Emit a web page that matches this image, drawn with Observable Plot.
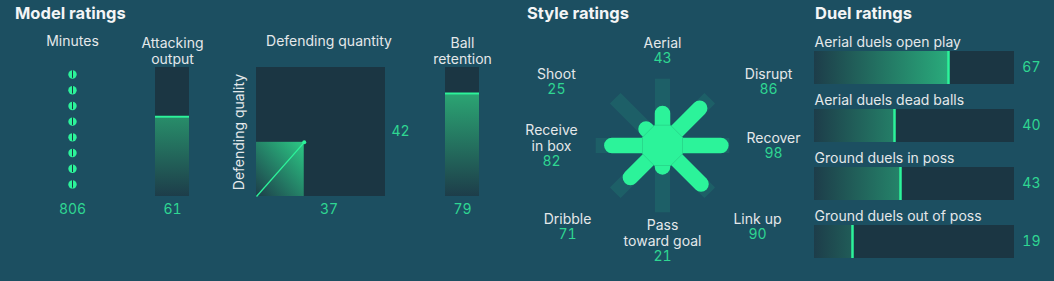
<!DOCTYPE html>
<html><head><meta charset="utf-8">
<script src="https://cdn.jsdelivr.net/npm/d3@7"></script>
<script src="https://cdn.jsdelivr.net/npm/@observablehq/plot@0.6"></script>
<style>
html,body{margin:0;padding:0;background:#1c4f61;}
#root{position:relative;width:1054px;height:281px;background:#1c4f61;overflow:hidden;font-family:Inter,"Open Sans",sans-serif;color:#e4e8ea;}
.title{position:absolute;font-weight:700;font-size:16.5px;line-height:17px;color:#f3f5f6;white-space:nowrap;}
</style></head><body><div id="root"></div>
<script>
// ---- data ----
const titles = ["Model ratings", "Style ratings", "Duel ratings"];
const minutesPlayed = 806;
const modelNames = ["Attacking\noutput", "Defending quantity", "Defending quality", "Ball\nretention"];
const modelValues = [61, 37, 42, 79];
const styleNames = ["Aerial", "Disrupt", "Recover", "Link up", "Pass\ntoward goal", "Dribble", "Receive\nin box", "Shoot"];
const styleValues = [43, 86, 98, 90, 21, 71, 82, 25];
const duelNames = ["Aerial duels open play", "Aerial duels dead balls", "Ground duels in poss", "Ground duels out of poss"];
const duelValues = [67, 40, 43, 19];

// ---- style ----
const DARK = "#1b3643", BRIGHT = "#2cf39a", NUM = "#2fd692", TXT = "#e4e8ea";
const FONT = "Inter, 'Open Sans', sans-serif";
const baseStyle = {background: "transparent", fontFamily: FONT, fontSize: "14px", overflow: "visible", color: TXT};
const root = document.getElementById("root");
function place(el, left, top) { el.style.position = "absolute"; el.style.left = left + "px"; el.style.top = top + "px"; root.appendChild(el); }
function addDefs(svg, html) { d3.select(svg).insert("defs", ":first-child").html(html); }

// titles
[15, 527, 815].forEach((x, i) => {
  const d = document.createElement("div");
  d.className = "title"; d.textContent = titles[i];
  place(d, x, 5);
});

// ---- Model ratings: minutes ----
const dots = d3.range(Math.floor(minutesPlayed / 100));
const pMin = Plot.plot({
  width: 80, height: 195, marginTop: 39, marginBottom: 27, marginLeft: 0, marginRight: 0,
  x: {domain: [0, 1], axis: null}, y: {domain: [-0.45, 7.77], reverse: true, axis: null},
  style: baseStyle,
  marks: [
    Plot.dot(dots, {x: 0.5, y: d => d, r: 4.2, fill: BRIGHT}),
    Plot.ruleX(dots, {x: 0.5, y1: d => d - 0.24, y2: d => d + 0.24, stroke: DARK, strokeWidth: 1}),
    Plot.text(["Minutes"], {x: 0.5, frameAnchor: "top", lineAnchor: "top", dy: -31, text: d => d, fill: TXT}),
    Plot.text([minutesPlayed], {x: 0.5, frameAnchor: "bottom", lineAnchor: "middle", dy: 13, text: d => d, fill: NUM})
  ]
});
place(pMin, 32, 28);

// ---- vertical bars ----
function vbar(label, value, cx, id) {
  const W = 34, mx = 40;
  const p = Plot.plot({
    width: W + 2 * mx, height: 195, marginTop: 39, marginBottom: 27, marginLeft: mx, marginRight: mx,
    x: {domain: [0, 1], axis: null}, y: {domain: [0, 100], axis: null}, style: baseStyle,
    marks: [
      Plot.rect([value], {x1: 0, x2: 1, y1: 0, y2: 100, fill: DARK}),
      Plot.rect([value], {x1: 0, x2: 1, y1: 0, y2: d => d, fill: `url(#${id})`}),
      Plot.ruleY([value], {y: d => d, stroke: BRIGHT, strokeWidth: 2, dy: -1}),
      Plot.text([label], {x: 0.5, frameAnchor: "top", lineAnchor: "top", lineHeight: 1.15, dy: -31, text: d => d, fill: TXT}),
      Plot.text([value], {x: 0.5, frameAnchor: "bottom", lineAnchor: "middle", dy: 13, text: d => d, fill: NUM})
    ]
  });
  const y = p.scale("y");
  addDefs(p, `<linearGradient id="${id}" gradientUnits="userSpaceOnUse" x1="0" x2="0" y1="${y.apply(0)}" y2="${y.apply(100)}"><stop offset="0" stop-color="#1d3d4a"/><stop offset="1" stop-color="#2fc07e"/></linearGradient>`);
  place(p, cx - W / 2 - mx, 28);
}
vbar(modelNames[0], modelValues[0], 172, "gAtt");
vbar(modelNames[3], modelValues[3], 461.5, "gRet");

// ---- defending square ----
const def = [{x: modelValues[1], y: modelValues[2]}];
const pDef = Plot.plot({
  width: 230, height: 195, marginTop: 39, marginBottom: 27, marginLeft: 56, marginRight: 45,
  x: {domain: [0, 100], axis: null}, y: {domain: [0, 100], axis: null}, style: baseStyle,
  marks: [
    Plot.rect([0], {x1: 0, x2: 100, y1: 0, y2: 100, fill: DARK}),
    Plot.rect(def, {x1: 0, x2: "x", y1: 0, y2: "y", fill: "url(#gDef)"}),
    Plot.link(def, {x1: 0, y1: 0, x2: "x", y2: "y", stroke: BRIGHT, strokeWidth: 1.3}),
    Plot.dot(def, {x: "x", y: "y", r: 2, fill: BRIGHT}),
    Plot.text([modelNames[1]], {x: 50, frameAnchor: "top", lineAnchor: "top", dy: -31, dx: 8, text: d => d, fill: TXT}),
    Plot.text(def, {x: 50, frameAnchor: "bottom", lineAnchor: "middle", dy: 13, dx: 8, text: "x", fill: NUM}),
    Plot.text([modelNames[2]], {y: 50, frameAnchor: "left", textAnchor: "middle", rotate: -90, dx: -17, text: d => d, fill: TXT}),
    Plot.text(def, {y: 50, frameAnchor: "right", textAnchor: "start", lineAnchor: "middle", dx: 6, text: "y", fill: NUM})
  ]
});
addDefs(pDef, `<linearGradient id="gDef" x1="0" y1="1" x2="1" y2="0"><stop offset="0" stop-color="#1d3d4a"/><stop offset="1" stop-color="#2cc985"/></linearGradient>`);
place(pDef, 200, 28);

// ---- Style radar ----
const RW = 300, RH = 270, CX = 661.7, CY = 144.6;
const HUB = 11.3, K = 0.48; // pixel radius = HUB + K * value
const sgnPow = (v, q) => Math.abs(v) < 1e-9 ? 0 : Math.sign(v) * Math.pow(Math.abs(v), q);
const radar = styleValues.map((v, i) => {
  const a = i * Math.PI / 4, s = Math.sin(a), c = Math.cos(a);
  const r = HUB + K * v, rb = HUB + K * 100 + 7.5;
  const n = styleNames[i].split("\n").length + 1;
  const upper = c > 1e-9;
  const lx = 111 * sgnPow(s, upper ? 0.13 : 0.45);
  const ly = -95 * sgnPow(c, upper ? 1.14 : 0.46);
  return {name: styleNames[i], value: v, x: r * s, y: -r * c, bx: rb * s, by: -rb * c,
          lx, nameY: ly - 8, valY: ly + (n - 1) * 8};
});
const hub = d3.range(8).map(i => {
  const a = (i + 0.5) * Math.PI / 4, R = 20 / Math.cos(Math.PI / 8);
  return {x: R * Math.sin(a), y: -R * Math.cos(a)};
});
const pRad = Plot.plot({
  width: RW, height: RH, margin: 0,
  x: {domain: [-RW / 2, RW / 2], range: [0, RW], axis: null},
  y: {domain: [-RH / 2, RH / 2], range: [0, RH], axis: null},
  style: baseStyle,
  marks: [
    Plot.link(radar, {x1: 0, y1: 0, x2: "bx", y2: "by", stroke: BRIGHT, strokeOpacity: 0.1, strokeWidth: 15, strokeLinecap: "butt"}),
    Plot.link(radar, {x1: 0, y1: 0, x2: "x", y2: "y", stroke: BRIGHT, strokeWidth: 15.5, strokeLinecap: "round"}),
    Plot.line(hub, {x: "x", y: "y", curve: "linear-closed", fill: BRIGHT, stroke: "#26cf86", strokeWidth: 0.7}),
    Plot.text(radar, {x: "lx", y: "nameY", text: "name", lineAnchor: "middle", lineHeight: 1.15, fill: TXT}),
    Plot.text(radar, {x: "lx", y: "valY", text: "value", lineAnchor: "middle", fill: NUM})
  ]
});
place(pRad, CX - RW / 2, CY - RH / 2);

// ---- Duel ratings ----
const duels = duelNames.map((n, i) => ({name: n, value: duelValues[i]}));
const pDuel = Plot.plot({
  width: 254, height: 281, marginTop: 49, marginBottom: 21.7, marginLeft: 14, marginRight: 40,
  x: {domain: [0, 100], axis: null},
  y: {domain: duelNames, paddingInner: 0.433, paddingOuter: 0, axis: null},
  style: baseStyle,
  marks: [
    Plot.barX(duels, {x1: 0, x2: 100, y: "name", fill: DARK}),
    Plot.barX(duels, {x1: 0, x2: "value", y: "name", fill: "url(#gDuel)"}),
    Plot.tickX(duels, {x: "value", y: "name", stroke: BRIGHT, strokeWidth: 2.5}),
    Plot.text(duels, {x: 0, y: "name", text: "name", textAnchor: "start", lineAnchor: "bottom", dy: -20.7, fill: TXT}),
    Plot.text(duels, {x: 100, y: "name", text: "value", textAnchor: "end", dx: 26, fill: NUM})
  ]
});
const dx = pDuel.scale("x");
addDefs(pDuel, `<linearGradient id="gDuel" gradientUnits="userSpaceOnUse" y1="0" y2="0" x1="${dx.apply(0)}" x2="${dx.apply(100)}"><stop offset="0" stop-color="#1d3d4a"/><stop offset="1" stop-color="#2fe093"/></linearGradient>`);
place(pDuel, 800, 0);
</script></body></html>
